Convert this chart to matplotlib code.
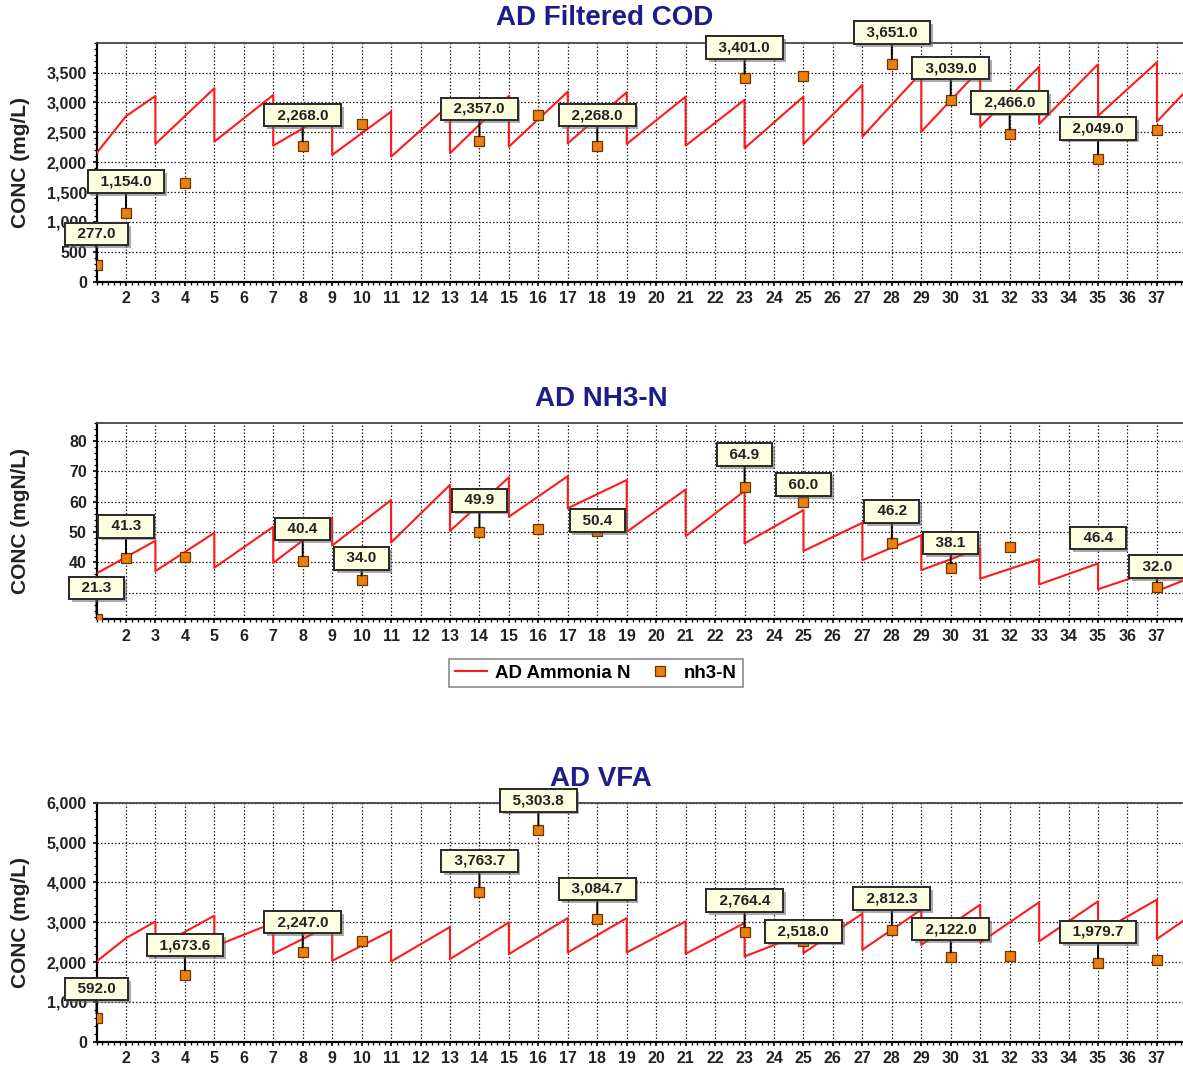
import matplotlib
matplotlib.use('Agg')
import matplotlib.pyplot as plt
from matplotlib import patheffects
from matplotlib.ticker import AutoMinorLocator, FuncFormatter

plt.rcParams['font.family'] = ['Liberation Sans', 'DejaVu Sans']
plt.rcParams['font.weight'] = 'bold'

# model curve vertices: the digester is fed every 2nd day, so the value drops at odd days
model_days = [1, 2, 3, 3, 5, 5, 7, 7, 9, 9, 11, 11, 13, 13, 15, 15, 17, 17, 19, 19,
              21, 21, 23, 23, 25, 25, 27, 27, 29, 29, 31, 31, 33, 33, 35, 35, 37, 37, 38]

cod_model = [2150, 2770, 3108, 2305, 3237, 2344, 3125, 2277, 2850, 2121, 2846, 2093,
             2970, 2149, 3110, 2260, 3181, 2317, 3170, 2305, 3097, 2277, 3042, 2233,
             3097, 2305, 3293, 2427, 3500, 2511, 3560, 2595, 3599, 2640, 3639, 2774,
             3672, 2678, 3200]

nh3_model = [36.3, 41.7, 47.1, 37.1, 49.7, 38.2, 51.7, 39.8, 54.5, 45.5, 60.5, 46.5,
             65.5, 50.3, 68.0, 55.0, 68.4, 57.8, 67.1, 50.0, 64.0, 48.6, 63.5, 46.2,
             57.2, 43.7, 53.0, 40.7, 48.9, 37.4, 44.6, 34.6, 41.0, 32.7, 39.6, 31.1,
             37.6, 30.5, 34.4]

vfa_model = [2014, 2600, 3020, 2350, 3164, 2391, 2980, 2207, 2950, 2031, 2786, 2014,
             2879, 2074, 2996, 2199, 3105, 2240, 3105, 2240, 3021, 2207, 2980, 2140,
             2710, 2225, 3214, 2308, 3315, 2430, 3441, 2492, 3500, 2517, 3524, 2720,
             3567, 2578, 3090]

# lab samples
cod_days = [1, 2, 4, 8, 10, 14, 16, 18, 23, 25, 28, 30, 32, 35, 37]
cod_vals = [277.0, 1154.0, 1652, 2268.0, 2640, 2357.0, 2790, 2268.0, 3401.0, 3443,
            3651.0, 3039.0, 2466.0, 2049.0, 2540]

nh3_days = [1, 2, 4, 8, 10, 14, 16, 18, 23, 25, 28, 30, 32, 35, 37]
nh3_vals = [21.3, 41.3, 41.8, 40.4, 34.0, 49.9, 50.8, 50.4, 64.9, 60.0, 46.2, 38.1,
            44.9, 46.4, 32.0]

vfa_days = [1, 4, 8, 10, 14, 16, 18, 23, 25, 28, 30, 32, 35, 37]
vfa_vals = [592.0, 1673.6, 2247.0, 2517, 3763.7, 5303.8, 3084.7, 2764.4, 2518.0, 2812.3,
            2122.0, 2157, 1979.7, 2056]

# which samples get a value box, and how far above the point (pixels)
cod_boxes = {1: 31, 2: 31, 8: 31, 14: 32, 18: 31, 23: 31, 28: 31, 30: 32, 32: 32, 35: 31}
nh3_boxes = {1: 31, 2: 32, 8: 32, 10: 22, 14: 32, 18: 10, 23: 32, 25: 17, 28: 32,
             30: 25, 35: 5, 37: 20}
vfa_boxes = {1: 29, 4: 30, 8: 30, 14: 31, 16: 30, 18: 30, 23: 31, 25: 10, 28: 31,
             30: 28, 35: 31}

W, H = 1183, 1074
fig = plt.figure(figsize=(W / 100, H / 100), dpi=100)

left = 96.5 / W
width = (1186.4 - 96.5) / W


def px_axes(top, bottom):
    return fig.add_axes([left, 1 - bottom / H, width, (bottom - top) / H])


def style_axes(ax):
    ax.set_xlim(1, 38)
    ax.set_xticks(range(2, 38))
    ax.xaxis.set_minor_locator(AutoMinorLocator(5))
    ax.yaxis.set_minor_locator(AutoMinorLocator(5))
    ax.grid(True, which='major', color='#1e1e1e', linestyle=(0, (1.2, 1.6)), linewidth=0.9)
    ax.tick_params(axis='both', which='major', labelsize=11.5, length=3, width=1.2,
                   direction='out', pad=4)
    ax.tick_params(axis='both', which='minor', length=2.5, width=0.9, direction='out')
    for s in ['left', 'bottom']:
        ax.spines[s].set_linewidth(1.6)
        ax.spines[s].set_color('black')
    for s in ['top', 'right']:
        ax.spines[s].set_linewidth(1.3)
        ax.spines[s].set_color('#444444')
    for lab in ax.get_xticklabels() + ax.get_yticklabels():
        lab.set_fontweight('bold')
        lab.set_color('#222222')


def label_points(ax, days, vals, boxes):
    for d, v in zip(days, vals):
        if d not in boxes:
            continue
        dy = boxes[d]
        arrow = None
        if dy >= 20:
            arrow = dict(arrowstyle='-', color='black', lw=1.4, shrinkA=0, shrinkB=3.5)
        ann = ax.annotate(f'  {v:,.1f}  ', xy=(d, v), xytext=(0, dy),
                          textcoords='offset pixels', ha='center', va='center',
                          fontsize=11, fontweight='bold', color='#222222',
                          bbox=dict(boxstyle='square,pad=0.28', fc='#fdfde0',
                                    ec='#2b2b2b', lw=1.4),
                          arrowprops=arrow, annotation_clip=False, zorder=6)
        ann.get_bbox_patch().set_path_effects([
            patheffects.withSimplePatchShadow(offset=(2, -2), shadow_rgbFace='#666666',
                                              alpha=0.55),
            patheffects.Normal()])


def draw_panel(ax, model, days, vals, boxes):
    line, = ax.plot(model_days, model, color='#ff1a1a', lw=1.5, zorder=3)
    pts, = ax.plot(days, vals, linestyle='none', marker='s', markersize=6.5,
                   markerfacecolor='#ec7f0e', markeredgecolor='#6b3500',
                   markeredgewidth=0.9, zorder=4)
    label_points(ax, days, vals, boxes)
    return line, pts


thousands = FuncFormatter(lambda v, p: f'{v:,.0f}')
title_kw = dict(fontsize=20, fontweight='bold', color='#1c1c8c', ha='center', va='center')
ylab_kw = dict(fontsize=15, fontweight='bold', color='#222222')

# AD Filtered COD
ax1 = px_axes(42.7, 281.7)
draw_panel(ax1, cod_model, cod_days, cod_vals, cod_boxes)
ax1.set_ylim(0, 4000)
ax1.set_yticks(range(0, 4000, 500))
ax1.yaxis.set_major_formatter(thousands)
style_axes(ax1)
ax1.set_ylabel('CONC (mg/L)', **ylab_kw)
ax1.yaxis.set_label_coords(-0.061, 0.5)
fig.text(605 / W, 1 - 18 / H, 'AD Filtered COD', **title_kw)

# AD NH3-N
ax2 = px_axes(422.7, 619.0)
line, pts = draw_panel(ax2, nh3_model, nh3_days, nh3_vals, nh3_boxes)
ax2.set_ylim(21.3, 86)
ax2.set_yticks(range(30, 90, 10))
style_axes(ax2)
ax2.set_ylabel('CONC (mgN/L)', **ylab_kw)
ax2.yaxis.set_label_coords(-0.061, 0.5)
fig.text(601 / W, 1 - 399 / H, 'AD NH3-N', **title_kw)
leg = ax2.legend([line, pts], ['AD Ammonia N', 'nh3-N'], loc='center',
                 bbox_to_anchor=(596 / W, 1 - 673 / H), bbox_transform=fig.transFigure,
                 ncol=2, fancybox=False, edgecolor='#8a8a8a', framealpha=1,
                 prop={'weight': 'bold', 'size': 13.5}, handlelength=1.7,
                 columnspacing=0.7, borderpad=0.3, handletextpad=0.45)
leg.get_frame().set_linewidth(1.2)

# AD VFA
ax3 = px_axes(802.7, 1041.7)
draw_panel(ax3, vfa_model, vfa_days, vfa_vals, vfa_boxes)
ax3.set_ylim(0, 6000)
ax3.set_yticks(range(0, 7000, 1000))
ax3.yaxis.set_major_formatter(thousands)
style_axes(ax3)
ax3.set_ylabel('CONC (mg/L)', **ylab_kw)
ax3.yaxis.set_label_coords(-0.061, 0.5)
fig.text(601 / W, 1 - 779 / H, 'AD VFA', **title_kw)

fig.savefig('out.png', dpi=100)
